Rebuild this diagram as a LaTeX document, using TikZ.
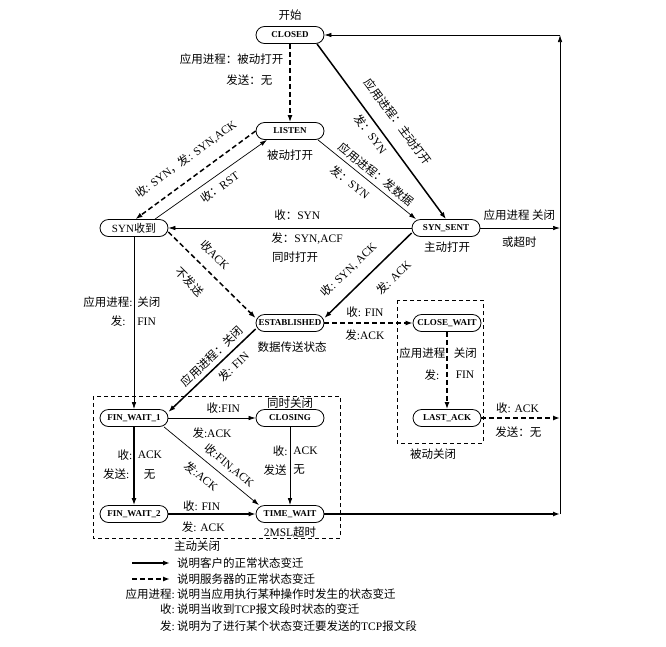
\documentclass[tikz,border=0pt]{standalone}
\usepackage{fontspec}
\setmainfont{Liberation Serif}
\newfontfamily\cjk{Noto Sans CJK SC}
\usetikzlibrary{arrows.meta, positioning, calc}

\newcommand{\zh}[1]{{\cjk #1}}

\tikzset{
  stbox/.style={draw, rectangle, rounded corners=8.5pt, minimum width=68pt, minimum height=17pt,
    inner sep=1pt, line width=0.8pt, font=\bfseries\fontsize{9}{10}\selectfont},
  lbl/.style={font=\fontsize{11.5}{13}\selectfont, inner sep=1pt},
  cli/.style={line width=1.5pt, -{Latex[length=7pt,width=5pt]}},
  srv/.style={line width=1.5pt, dash pattern=on 5pt off 3pt, -{Latex[length=7pt,width=5pt]}},
  oth/.style={line width=0.7pt, -{Latex[length=7pt,width=4.5pt]}},
  grp/.style={line width=0.7pt, dash pattern=on 4pt off 3pt}
}

\begin{document}
\begin{tikzpicture}[x=1pt, y=-1pt]
\useasboundingbox (0,0) rectangle (666,646);

% states
\node[stbox] (closed)    at (290,35)  {CLOSED};
\node[stbox] (listen)    at (290,131) {LISTEN};
\node[stbox, font=\fontsize{11}{12}\selectfont] (synrcvd) at (134,228) {SYN\zh{收到}};
\node[stbox] (synsent)   at (446,228) {SYN\_SENT};
\node[stbox] (estab)     at (290,323) {ESTABLISHED};
\node[stbox] (closewait) at (447,323) {CLOSE\_WAIT};
\node[stbox] (lastack)   at (447,418) {LAST\_ACK};
\node[stbox] (finwait1)  at (134,418) {FIN\_WAIT\_1};
\node[stbox] (closing)   at (290,418) {CLOSING};
\node[stbox] (finwait2)  at (134,514) {FIN\_WAIT\_2};
\node[stbox] (timewait)  at (290,514) {TIME\_WAIT};

% notes beside the states
\node[lbl] (start)     at (290,15)  {\zh{开始}};
\node[lbl] (passopen)  at (290,155) {\zh{被动打开}};
\node[lbl] (actopen)   at (447,247) {\zh{主动打开}};
\node[lbl] (simopen)   at (295,257) {\zh{同时打开}};
\node[lbl] (datastate) at (292,347) {\zh{数据传送状态}};
\node[lbl] (simclose)  at (290,403) {\zh{同时关闭}};
\node[lbl] (msl)       at (290,532) {2MSL\zh{超时}};
\node[lbl] (passclose) at (433,454) {\zh{被动关闭}};
\node[lbl] (actclose)  at (197,546) {\zh{主动关闭}};

% dashed groups
\draw[grp] (397,300) rectangle (483,443);
\draw[grp] (93,396) rectangle (340,538);

% return line on the right
\coordinate (rtop)  at (560,35);
\coordinate (rsyn)  at (560,228);
\coordinate (rlast) at (560,418);
\coordinate (rbot)  at (560,514);

% opening
\draw[srv] (closed) -- (listen)
  node[lbl, pos=.2, left=5pt] {\zh{应用进程：被动打开}}
  node[lbl, pos=.46, left=16pt] {\zh{发送：无}};
\draw[cli] ([xshift=27pt]closed.south) -- (synsent.north)
  node[lbl, sloped, pos=.51, above=12pt] {\zh{应用进程：主动打开}}
  node[lbl, sloped, pos=.48, below=3pt] {\zh{发：}SYN};
\draw[srv] (listen.west) -- ([xshift=1.5pt]synrcvd.north)
  node[lbl, sloped, pos=.49, above=11pt] {\zh{收}: SYN\zh{，发}: SYN,ACK};
\draw[oth] ([xshift=21pt]synrcvd.north) -- ([xshift=-23pt]listen.south)
  node[lbl, sloped, pos=.52, below=4.5pt] {\zh{收：}RST};
\draw[oth] ([xshift=28pt]listen.south) -- ([xshift=-30pt]synsent.north)
  node[lbl, sloped, pos=.53, above=3pt] {\zh{应用进程：发数据}}
  node[lbl, sloped, pos=.41, below=6pt] {\zh{发：}SYN};
\draw[oth] (synsent) -- (synrcvd)
  node[lbl, pos=.47, above=6pt] {\zh{收：}SYN}
  node[lbl, pos=.43, below=3pt] {\zh{发：}SYN,ACF};
\draw[srv] ([yshift=-4pt]synrcvd.east) -- ([yshift=5pt]estab.west)
  node[lbl, sloped, pos=.40, above=9.5pt] {\zh{收}ACK}
  node[lbl, sloped, pos=.41, below=13.5pt] {\zh{不发送}};
\draw[cli] ([yshift=-5pt]synsent.west) -- ([yshift=5pt]estab.east)
  node[lbl, sloped, pos=.58, above=10pt] {\zh{收}: SYN, ACK}
  node[lbl, sloped, pos=.36, below=12pt] {\zh{发}: ACK};
\draw[oth] (synsent) -- (rsyn)
  node[lbl, pos=.49, above=6pt] {\zh{应用进程 关闭}}
  node[lbl, pos=.49, below=7pt] {\zh{或超时}};

% closing
\draw[oth] (synrcvd) -- (finwait1)
  node[lbl, pos=.38, left=0pt] {\zh{应用进程}:}
  node[lbl, pos=.38, right=2pt] {\zh{关闭}}
  node[lbl, pos=.49, left=7pt] {\zh{发}:}
  node[lbl, pos=.49, right=2pt] {FIN};
\draw[srv] (estab) -- (closewait)
  node[lbl, pos=.46, above=4pt] {\zh{收}: FIN}
  node[lbl, pos=.46, below=5pt] {\zh{发}:ACK};
\draw[cli] ([yshift=-6pt]estab.west) -- ([yshift=6pt]finwait1.east)
  node[lbl, sloped, pos=.42, above=3pt] {\zh{应用进程：关闭}}
  node[lbl, sloped, pos=.35, below=5pt] {\zh{发}: FIN};
\draw[srv] (closewait) -- (lastack)
  node[lbl, pos=.28, left=0pt] {\zh{应用进程}}
  node[lbl, pos=.28, right=5pt] {\zh{关闭}}
  node[lbl, pos=.56, left=6pt] {\zh{发}:}
  node[lbl, pos=.56, right=7pt] {FIN};
\draw[srv] (lastack) -- (rlast)
  node[lbl, pos=.46, above=3pt] {\zh{收}: ACK}
  node[lbl, pos=.47, below=7pt] {\zh{发送：无}};
\draw[oth] (finwait1) -- (closing)
  node[lbl, pos=.63, above=3pt] {\zh{收}:FIN}
  node[lbl, pos=.5, below=8pt] {\zh{发}:ACK};
\draw[oth] ([xshift=30pt]finwait1.south) -- ([xshift=-31pt]timewait.north)
  node[lbl, sloped, pos=.61, above=4.5pt] {\zh{收}:FIN,ACK}
  node[lbl, sloped, pos=.49, below=7.5pt] {\zh{发}:ACK};
\draw[cli] (finwait1) -- (finwait2)
  node[lbl, pos=.36, left=0pt] {\zh{收}:}
  node[lbl, pos=.36, right=2pt] {ACK}
  node[lbl, pos=.61, left=3pt] {\zh{发送}:}
  node[lbl, pos=.61, right=8pt] {\zh{无}};
\draw[oth] (closing) -- (timewait)
  node[lbl, pos=.31, left=1pt] {\zh{收}:}
  node[lbl, pos=.31, right=2pt] {ACK}
  node[lbl, pos=.55, left=2pt] {\zh{发送}}
  node[lbl, pos=.55, right=2pt] {\zh{无}};
\draw[cli] (finwait2) -- (timewait)
  node[lbl, pos=.38, above=1pt] {\zh{收}: FIN}
  node[lbl, pos=.4, below=6pt] {\zh{发}: ACK};
\draw[cli] (timewait) -- (rbot);
\draw[oth] (rbot) -- (rtop);
\draw[oth] (rtop) -- (closed);

% legend
\coordinate (lgc1) at (132,563);
\coordinate (lgc2) at (170,563);
\coordinate (lgs1) at (132,579);
\coordinate (lgs2) at (170,579);
\draw[cli] (lgc1) -- (lgc2);
\draw[srv] (lgs1) -- (lgs2);
\node[lbl, anchor=west] (lgcli) at (176,563) {\zh{说明客户的正常状态变迁}};
\node[lbl, anchor=west] (lgsrv) at (176,579) {\zh{说明服务器的正常状态变迁}};
\node[lbl, anchor=west] (lgapp) at (176,594) {\zh{说明当应用执行某种操作时发生的状态变迁}};
\node[lbl, anchor=west] (lgrcv) at (176,609) {\zh{说明当收到}TCP\zh{报文段时状态的变迁}};
\node[lbl, anchor=west] (lgsnd) at (176,626) {\zh{说明为了进行某个状态变迁要发送的}TCP\zh{报文段}};
\node[lbl, anchor=east] (lgappk) at (lgapp.west) {\zh{应用进程}:};
\node[lbl, anchor=east] (lgrcvk) at (lgrcv.west) {\zh{收}:};
\node[lbl, anchor=east] (lgsndk) at (lgsnd.west) {\zh{发}:};
\end{tikzpicture}
\end{document}
